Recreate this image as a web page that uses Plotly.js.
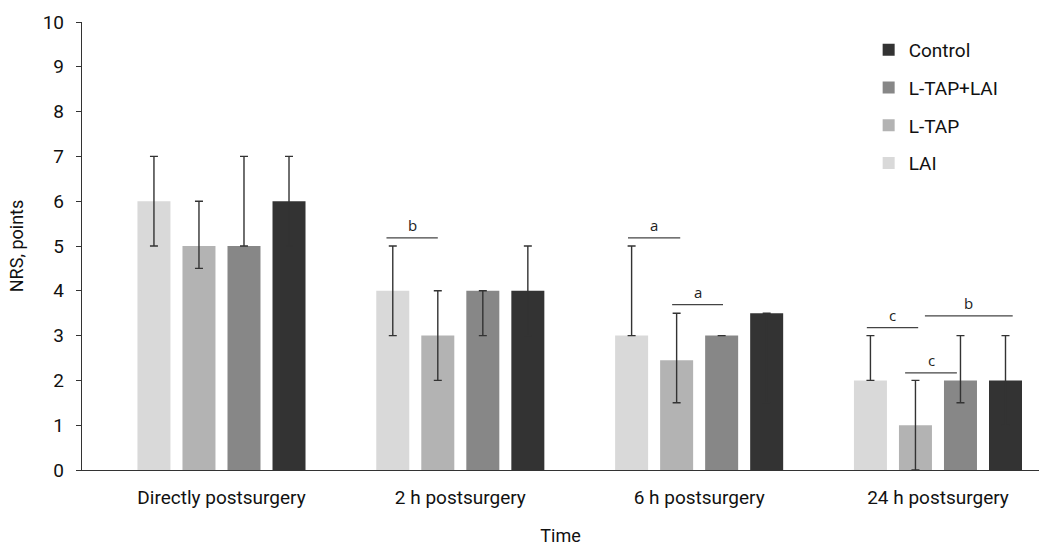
<!DOCTYPE html>
<html>
<head>
<meta charset="utf-8">
<script src="https://cdn.plot.ly/plotly-3.0.1.min.js"></script>
<style>html,body{margin:0;padding:0;background:#fff;}#chart{width:1039px;height:546px;}</style>
</head>
<body>
<div id="chart"></div>
<script>
// ---- data ----
var categories = ["Directly postsurgery", "2 h postsurgery", "6 h postsurgery", "24 h postsurgery"];
var seriesNames = ["LAI", "L-TAP", "L-TAP+LAI", "Control"];
var seriesColors = ["#d9d9d9", "#b3b3b3", "#878787", "#333333"];
var legendRanks = [4, 3, 2, 1];

var laiMean = [6.0, 4.0, 3.0, 2.0];
var laiUpper = [7.0, 5.0, 5.0, 3.0];
var laiLower = [5.0, 3.0, 3.0, 2.0];

var ltapMean = [5.0, 3.0, 2.45, 1.0];
var ltapUpper = [6.0, 4.0, 3.5, 2.0];
var ltapLower = [4.5, 2.0, 1.5, 0.0];

var ltapLaiMean = [5.0, 4.0, 3.0, 2.0];
var ltapLaiUpper = [7.0, 4.0, 3.0, 3.0];
var ltapLaiLower = [5.0, 3.0, 3.0, 1.5];

var controlMean = [6.0, 4.0, 3.5, 2.0];
var controlUpper = [7.0, 5.0, 3.5, 3.0];
var controlLower = [5.0, 3.0, 1.5, 1.0];

var yTickVals = [0, 1, 2, 3, 4, 5, 6, 7, 8, 9, 10];

// significance brackets: group index, start/end in bar-slot offsets from group centre, height, label
var bracketGroup = [1, 2, 2, 3, 3, 3];
var bracketStart = [-1.64, -1.58, -0.60, -1.58, -0.73, -0.29];
var bracketEnd = [-0.50, -0.42, 0.53, -0.44, 0.42, 1.66];
var bracketY = [5.18, 5.18, 3.69, 3.18, 2.17, 3.44];
var bracketLabel = ["b", "a", "a", "c", "c", "b"];

// ---- build ----
var means = [laiMean, ltapMean, ltapLaiMean, controlMean];
var uppers = [laiUpper, ltapUpper, ltapLaiUpper, controlUpper];
var lowers = [laiLower, ltapLower, ltapLaiLower, controlLower];

var narrow = "Liberation Sans Narrow, Roboto, sans-serif";
var bargap = 0.246;

var traces = seriesNames.map(function (name, i) {
  return {
    type: "bar",
    name: name,
    x: categories,
    y: means[i],
    legendgroup: name,
    legendrank: legendRanks[i],
    marker: {color: seriesColors[i]},
    error_y: {
      type: "data",
      symmetric: false,
      array: uppers[i].map(function (u, k) { return u - means[i][k]; }),
      arrayminus: lowers[i].map(function (l, k) { return means[i][k] - l; }),
      color: "#333333",
      thickness: 1.4,
      width: 4
    },
    hoverinfo: "skip"
  };
});

var slot = (1 - bargap) / seriesNames.length;
var shapes = [];
var annotations = [];
for (var b = 0; b < bracketGroup.length; b++) {
  var x0 = bracketGroup[b] + bracketStart[b] * slot;
  var x1 = bracketGroup[b] + bracketEnd[b] * slot;
  shapes.push({
    type: "line", xref: "x", yref: "y",
    x0: x0, x1: x1, y0: bracketY[b], y1: bracketY[b],
    line: {color: "#444444", width: 1.3}
  });
  annotations.push({
    xref: "x", yref: "y", x: (x0 + x1) / 2, y: bracketY[b],
    text: bracketLabel[b], showarrow: false, yanchor: "bottom", yshift: 1,
    font: {family: "Open Sans, DejaVu Sans, sans-serif", size: 15, color: "#222222"}
  });
}

var layout = {
  width: 1039, height: 546,
  margin: {l: 82, r: 0, t: 22, b: 76, pad: 0},
  paper_bgcolor: "#ffffff", plot_bgcolor: "#ffffff",
  font: {family: narrow, size: 19, color: "#111111"},
  barmode: "group",
  bargap: bargap,
  bargroupgap: 0.267,
  showlegend: true,
  legend: {
    x: 0.822, xanchor: "left", y: 0.98, yanchor: "top",
    traceorder: "grouped", tracegroupgap: 10,
    font: {family: narrow, size: 19, color: "#111111"},
    bgcolor: "rgba(0,0,0,0)"
  },
  xaxis: {
    type: "category",
    range: [-0.584, 3.423],
    showline: true, linecolor: "#333333", linewidth: 1.3,
    ticks: "", showgrid: false, zeroline: false,
    tickfont: {family: narrow, size: 19, color: "#111111"},
    ticklabelstandoff: 10,
    title: {text: "Time", font: {family: narrow, size: 18, color: "#111111"}, standoff: 22}
  },
  yaxis: {
    range: [0, 10],
    tickvals: yTickVals,
    showline: true, linecolor: "#333333", linewidth: 1.2,
    ticks: "outside", ticklen: 5, tickcolor: "#333333", tickwidth: 1,
    showgrid: false, zeroline: false,
    tickfont: {family: narrow, size: 19, color: "#111111"},
    ticklabelstandoff: 8,
    title: {text: "NRS, points", font: {family: narrow, size: 18, color: "#111111"}, standoff: 14}
  },
  shapes: shapes,
  annotations: annotations
};

Plotly.newPlot("chart", traces, layout, {displayModeBar: false, staticPlot: true});
</script>
</body>
</html>
